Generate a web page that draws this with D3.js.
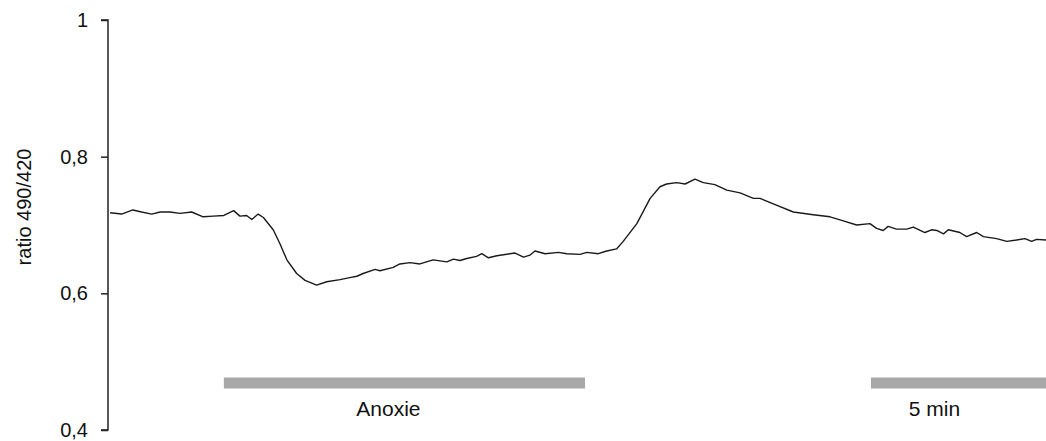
<!DOCTYPE html>
<html>
<head>
<meta charset="utf-8">
<script src="https://cdn.jsdelivr.net/npm/d3@7/dist/d3.min.js"></script>
<style>
  html, body { margin: 0; padding: 0; background: #fff; }
  svg { display: block; font-family: "Liberation Sans", Arial, sans-serif; }
</style>
</head>
<body>
<svg id="chart" width="1046" height="441"></svg>
<script>
// Fluorescence ratio 490/420 recorded over time (minutes)
const timeMin = [
  0.06, 0.39, 0.71, 0.96, 1.25, 1.49, 1.77, 2.06, 2.39, 2.72,
  3.01, 3.31, 3.59, 3.77, 3.96, 4.11, 4.29, 4.44, 4.72, 4.91,
  5.11, 5.39, 5.63, 5.96, 6.25, 6.63, 6.91, 7.11, 7.29, 7.63,
  7.77, 8.15, 8.34, 8.63, 8.91, 9.29, 9.68, 9.87, 10.06, 10.25,
  10.53, 10.68, 10.87, 11.11, 11.63, 11.87, 12.06, 12.20, 12.49, 12.87,
  13.11, 13.49, 13.68, 14.01, 14.25, 14.53, 14.72, 15.11, 15.49, 15.77,
  15.96, 16.25, 16.49, 16.77, 17.01, 17.34, 17.68, 18.06, 18.44, 18.63,
  19.01, 19.58, 20.15, 20.63, 21.01, 21.39, 21.77, 21.96, 22.15, 22.29,
  22.53, 22.82, 23.01, 23.34, 23.53, 23.68, 23.87, 24.01, 24.34, 24.53,
  24.82, 25.01, 25.39, 25.68, 25.96, 26.20, 26.39, 26.53, 26.80
];
const ratio = [
  0.718, 0.716, 0.722, 0.719, 0.716, 0.719, 0.719, 0.717, 0.719, 0.712,
  0.713, 0.714, 0.721, 0.713, 0.714, 0.708, 0.716, 0.711, 0.693, 0.673,
  0.649, 0.629, 0.619, 0.612, 0.617, 0.620, 0.623, 0.625, 0.629, 0.635,
  0.633, 0.638, 0.643, 0.645, 0.643, 0.649, 0.646, 0.650, 0.648, 0.651,
  0.654, 0.658, 0.652, 0.655, 0.659, 0.653, 0.656, 0.662, 0.658, 0.660,
  0.658, 0.657, 0.660, 0.658, 0.662, 0.665, 0.676, 0.702, 0.739, 0.756,
  0.760, 0.762, 0.760, 0.767, 0.762, 0.759, 0.751, 0.747, 0.739, 0.739,
  0.731, 0.719, 0.715, 0.712, 0.706, 0.700, 0.702, 0.695, 0.692, 0.698,
  0.694, 0.694, 0.697, 0.689, 0.693, 0.692, 0.687, 0.693, 0.689, 0.683,
  0.689, 0.683, 0.680, 0.676, 0.678, 0.680, 0.676, 0.679, 0.678
];
const yTicks = [0.4, 0.6, 0.8, 1];
const yTickLabels = ["0,4", "0,6", "0,8", "1"];
const periodNames = ["Anoxie", "5 min"];
const periodStart = [3.31, 21.8];
const periodEnd = [13.63, 26.8];
const yLabel = "ratio 490/420";

const svg = d3.select("#chart");

const x = d3.scaleLinear().domain([0, 26.8]).range([108, 1046]);
const y = d3.scaleLinear().domain([0.4, 1]).range([430, 20]);

// Y axis with outward ticks and comma decimal labels
const yAxis = d3.axisLeft(y)
  .tickValues(yTicks)
  .tickSize(7)
  .tickPadding(13)
  .tickFormat((d, i) => yTickLabels[i]);

const gAxis = svg.append("g")
  .attr("transform", `translate(${x(0)},0)`)
  .call(yAxis);
gAxis.select(".domain")
  .attr("d", `M-7,${y(1)}H0V${y(0.4)}H-7`)
  .attr("stroke", "#222").attr("stroke-width", 1.5).attr("fill", "none");
gAxis.selectAll(".tick line").attr("stroke", "#222").attr("stroke-width", 1.5);
gAxis.selectAll(".tick text")
  .attr("fill", "#111")
  .style("font-size", "20px")
  .style("font-family", "'Liberation Sans', Arial, sans-serif");

// Axis title
svg.append("text")
  .attr("transform", `translate(31,207) rotate(-90)`)
  .attr("text-anchor", "middle")
  .attr("fill", "#111")
  .style("font-size", "20px")
  .text(yLabel);

// Trace
const pts = timeMin.map((t, i) => [t, ratio[i]]);
svg.append("path")
  .datum(pts)
  .attr("fill", "none")
  .attr("stroke", "#1a1a1a")
  .attr("stroke-width", 1.4)
  .attr("stroke-linejoin", "round")
  .attr("d", d3.line().x(d => x(d[0])).y(d => y(d[1])));

// Period bars and labels
const periods = periodNames.map((n, i) => ({ name: n, s: periodStart[i], e: periodEnd[i] }));
svg.selectAll("rect.period")
  .data(periods)
  .join("rect")
  .attr("class", "period")
  .attr("x", d => x(d.s))
  .attr("width", d => x(d.e) - x(d.s))
  .attr("y", 377.5)
  .attr("height", 11)
  .attr("fill", "#a8a8a8");

const labelOffset = [-16, -24];
svg.selectAll("text.period")
  .data(periods)
  .join("text")
  .attr("class", "period")
  .attr("x", (d, i) => (x(d.s) + x(d.e)) / 2 + labelOffset[i])
  .attr("y", 416)
  .attr("text-anchor", "middle")
  .attr("fill", "#111")
  .style("font-size", "21px")
  .text(d => d.name);
</script>
</body>
</html>
